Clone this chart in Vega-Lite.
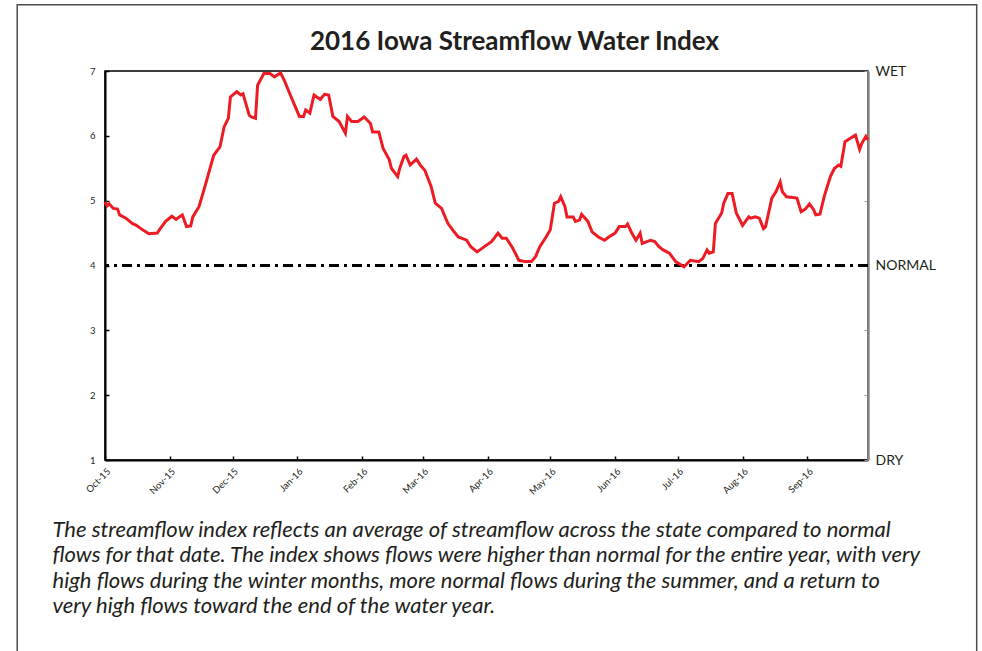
{
  "$schema": "https://vega.github.io/schema/vega-lite/v6.json",
  "width": 763,
  "height": 389,
  "autosize": {"type": "none"},
  "padding": {"left": 105, "top": 71, "right": 114, "bottom": 191},
  "background": "white",
  "config": {"view": {"stroke": "black", "strokeWidth": 1.5}, "font": "Lato"},
  "title": {"text": "2016 Iowa Streamflow Water Index", "font": "Lato", "fontSize": 26, "fontWeight": "bold", "color": "#231F20", "anchor": "middle", "frame": "group", "dx": 28, "offset": -51},
  "data": {"values": [
    {"date": "2015-10-01", "index": 4.98}, {"date": "2015-10-02", "index": 4.92}, {"date": "2015-10-03", "index": 4.95},
    {"date": "2015-10-05", "index": 4.88}, {"date": "2015-10-07", "index": 4.87}, {"date": "2015-10-08", "index": 4.78},
    {"date": "2015-10-11", "index": 4.73}, {"date": "2015-10-14", "index": 4.65}, {"date": "2015-10-16", "index": 4.62},
    {"date": "2015-10-19", "index": 4.55}, {"date": "2015-10-22", "index": 4.49}, {"date": "2015-10-26", "index": 4.50},
    {"date": "2015-10-27", "index": 4.55}, {"date": "2015-10-30", "index": 4.68}, {"date": "2015-11-02", "index": 4.76},
    {"date": "2015-11-04", "index": 4.71}, {"date": "2015-11-06", "index": 4.76}, {"date": "2015-11-07", "index": 4.78},
    {"date": "2015-11-09", "index": 4.60}, {"date": "2015-11-11", "index": 4.61}, {"date": "2015-11-12", "index": 4.75},
    {"date": "2015-11-15", "index": 4.91}, {"date": "2015-11-18", "index": 5.24}, {"date": "2015-11-20", "index": 5.47},
    {"date": "2015-11-22", "index": 5.70}, {"date": "2015-11-25", "index": 5.83}, {"date": "2015-11-27", "index": 6.14},
    {"date": "2015-11-29", "index": 6.27}, {"date": "2015-11-30", "index": 6.60}, {"date": "2015-12-03", "index": 6.68},
    {"date": "2015-12-05", "index": 6.63}, {"date": "2015-12-06", "index": 6.65}, {"date": "2015-12-09", "index": 6.32},
    {"date": "2015-12-10", "index": 6.29}, {"date": "2015-12-12", "index": 6.27}, {"date": "2015-12-13", "index": 6.78},
    {"date": "2015-12-16", "index": 6.96}, {"date": "2015-12-19", "index": 6.96}, {"date": "2015-12-21", "index": 6.91},
    {"date": "2015-12-24", "index": 6.97}, {"date": "2015-12-26", "index": 6.84}, {"date": "2015-12-28", "index": 6.68},
    {"date": "2015-12-31", "index": 6.45}, {"date": "2016-01-02", "index": 6.30}, {"date": "2016-01-04", "index": 6.30},
    {"date": "2016-01-05", "index": 6.40}, {"date": "2016-01-07", "index": 6.35}, {"date": "2016-01-09", "index": 6.63},
    {"date": "2016-01-12", "index": 6.56}, {"date": "2016-01-14", "index": 6.64}, {"date": "2016-01-16", "index": 6.63},
    {"date": "2016-01-18", "index": 6.30}, {"date": "2016-01-21", "index": 6.22}, {"date": "2016-01-24", "index": 6.04},
    {"date": "2016-01-25", "index": 6.30}, {"date": "2016-01-27", "index": 6.22}, {"date": "2016-01-30", "index": 6.22},
    {"date": "2016-02-02", "index": 6.29}, {"date": "2016-02-05", "index": 6.19}, {"date": "2016-02-06", "index": 6.06},
    {"date": "2016-02-09", "index": 6.06}, {"date": "2016-02-11", "index": 5.81}, {"date": "2016-02-14", "index": 5.63},
    {"date": "2016-02-15", "index": 5.50}, {"date": "2016-02-18", "index": 5.37}, {"date": "2016-02-19", "index": 5.50},
    {"date": "2016-02-21", "index": 5.68}, {"date": "2016-02-22", "index": 5.70}, {"date": "2016-02-24", "index": 5.55},
    {"date": "2016-02-27", "index": 5.64}, {"date": "2016-02-29", "index": 5.54}, {"date": "2016-03-02", "index": 5.47},
    {"date": "2016-03-05", "index": 5.22}, {"date": "2016-03-07", "index": 4.96}, {"date": "2016-03-10", "index": 4.88},
    {"date": "2016-03-13", "index": 4.65}, {"date": "2016-03-16", "index": 4.52}, {"date": "2016-03-18", "index": 4.44},
    {"date": "2016-03-22", "index": 4.39}, {"date": "2016-03-24", "index": 4.29}, {"date": "2016-03-27", "index": 4.21},
    {"date": "2016-03-30", "index": 4.28}, {"date": "2016-04-03", "index": 4.37}, {"date": "2016-04-06", "index": 4.50},
    {"date": "2016-04-08", "index": 4.42}, {"date": "2016-04-10", "index": 4.42}, {"date": "2016-04-13", "index": 4.27},
    {"date": "2016-04-16", "index": 4.08}, {"date": "2016-04-19", "index": 4.06}, {"date": "2016-04-22", "index": 4.06},
    {"date": "2016-04-24", "index": 4.14}, {"date": "2016-04-26", "index": 4.29}, {"date": "2016-04-29", "index": 4.44},
    {"date": "2016-05-01", "index": 4.55}, {"date": "2016-05-03", "index": 4.96}, {"date": "2016-05-05", "index": 4.99},
    {"date": "2016-05-06", "index": 5.06}, {"date": "2016-05-08", "index": 4.91}, {"date": "2016-05-09", "index": 4.75},
    {"date": "2016-05-12", "index": 4.75}, {"date": "2016-05-13", "index": 4.68}, {"date": "2016-05-15", "index": 4.70},
    {"date": "2016-05-16", "index": 4.79}, {"date": "2016-05-19", "index": 4.68}, {"date": "2016-05-21", "index": 4.52},
    {"date": "2016-05-24", "index": 4.44}, {"date": "2016-05-27", "index": 4.39}, {"date": "2016-05-29", "index": 4.44},
    {"date": "2016-06-01", "index": 4.50}, {"date": "2016-06-03", "index": 4.60}, {"date": "2016-06-06", "index": 4.60},
    {"date": "2016-06-07", "index": 4.64}, {"date": "2016-06-09", "index": 4.50}, {"date": "2016-06-11", "index": 4.39},
    {"date": "2016-06-13", "index": 4.50}, {"date": "2016-06-14", "index": 4.34}, {"date": "2016-06-18", "index": 4.39},
    {"date": "2016-06-20", "index": 4.37}, {"date": "2016-06-22", "index": 4.29}, {"date": "2016-06-24", "index": 4.24},
    {"date": "2016-06-27", "index": 4.19}, {"date": "2016-06-30", "index": 4.06}, {"date": "2016-07-04", "index": 3.98},
    {"date": "2016-07-07", "index": 4.08}, {"date": "2016-07-11", "index": 4.06}, {"date": "2016-07-13", "index": 4.11},
    {"date": "2016-07-15", "index": 4.24}, {"date": "2016-07-16", "index": 4.19}, {"date": "2016-07-18", "index": 4.21},
    {"date": "2016-07-19", "index": 4.65}, {"date": "2016-07-22", "index": 4.81}, {"date": "2016-07-23", "index": 4.96},
    {"date": "2016-07-25", "index": 5.11}, {"date": "2016-07-27", "index": 5.11}, {"date": "2016-07-29", "index": 4.81},
    {"date": "2016-08-01", "index": 4.62}, {"date": "2016-08-04", "index": 4.75}, {"date": "2016-08-05", "index": 4.73},
    {"date": "2016-08-07", "index": 4.75}, {"date": "2016-08-09", "index": 4.73}, {"date": "2016-08-11", "index": 4.57},
    {"date": "2016-08-12", "index": 4.60}, {"date": "2016-08-15", "index": 5.04}, {"date": "2016-08-17", "index": 5.14},
    {"date": "2016-08-19", "index": 5.29}, {"date": "2016-08-20", "index": 5.14}, {"date": "2016-08-22", "index": 5.06},
    {"date": "2016-08-25", "index": 5.05}, {"date": "2016-08-27", "index": 5.04}, {"date": "2016-08-29", "index": 4.83},
    {"date": "2016-08-31", "index": 4.87}, {"date": "2016-09-02", "index": 4.95}, {"date": "2016-09-04", "index": 4.86},
    {"date": "2016-09-05", "index": 4.78}, {"date": "2016-09-07", "index": 4.79}, {"date": "2016-09-09", "index": 5.06},
    {"date": "2016-09-12", "index": 5.37}, {"date": "2016-09-14", "index": 5.50}, {"date": "2016-09-16", "index": 5.55},
    {"date": "2016-09-17", "index": 5.53}, {"date": "2016-09-19", "index": 5.91}, {"date": "2016-09-21", "index": 5.95},
    {"date": "2016-09-24", "index": 6.01}, {"date": "2016-09-26", "index": 5.79}, {"date": "2016-09-27", "index": 5.88},
    {"date": "2016-09-29", "index": 5.99}, {"date": "2016-09-30", "index": 5.94}
  ]},
  "layer": [
    {
      "data": {"values": [{}]},
      "mark": {"type": "rect", "fill": "white", "fillOpacity": 0, "stroke": "#4d4d4d", "strokeWidth": 1.5, "clip": false},
      "encoding": {
        "x": {"datum": {"year": 2015, "month": 8, "date": 20}, "type": "temporal",
              "scale": {"domain": [{"year": 2015, "month": 10, "date": 1}, {"year": 2016, "month": 9, "date": 30}]}},
        "x2": {"datum": {"year": 2016, "month": 11, "date": 21}},
        "y": {"datum": 8.02, "type": "quantitative", "axis": null, "scale": {"domain": [1, 7], "nice": false, "zero": false}},
        "y2": {"datum": -3}
      }
    },
    {
      "data": {"values": [{}]},
      "mark": {"type": "rule", "strokeDash": [10, 5, 3, 5], "strokeWidth": 3, "color": "black"},
      "encoding": {
        "y": {"datum": 4, "type": "quantitative", "scale": {"domain": [1, 7], "nice": false, "zero": false},
              "axis": {"orient": "right", "title": null, "values": [1, 2, 3, 4, 5, 6, 7],
                       "labelExpr": "datum.value == 7 ? 'WET' : datum.value == 4 ? 'NORMAL' : datum.value == 1 ? 'DRY' : ''",
                       "labelFont": "Lato", "labelFontSize": 14, "labelColor": "#231F20", "labelPadding": 11,
                       "tickSize": -4, "tickColor": "#999999", "tickWidth": 1,
                       "domainColor": "#888888", "domainWidth": 2.5, "grid": false}}
      }
    },
    {
      "mark": {"type": "line", "color": "#ED1C24", "strokeWidth": 3},
      "encoding": {
        "x": {"field": "date", "type": "temporal",
              "scale": {"domain": [{"year": 2015, "month": 10, "date": 1}, {"year": 2016, "month": 9, "date": 30}]},
              "axis": {"format": "%b-%y", "labelAngle": -45, "labelFontSize": 9.5, "labelColor": "#231F20",
                       "tickCount": {"interval": "month", "step": 1}, "tickSize": -4, "tickColor": "black", "tickWidth": 1.5,
                       "labelPadding": 10, "domainColor": "black", "domainWidth": 2, "grid": false,
                       "title": ["The streamflow index reflects an average of streamflow across the state compared to normal",
                                 "flows for that date. The index shows flows were higher than normal for the entire year, with very",
                                 "high flows during the winter months, more normal flows during the summer, and a return to",
                                 "very high flows toward the end of the water year."],
                       "titleFont": "Lato", "titleFontSize": 22, "titleFontStyle": "italic", "titleFontWeight": "normal",
                       "titleColor": "#231F20", "titleAlign": "left", "titleBaseline": "alphabetic", "titleLineHeight": 25.6,
                       "titleX": -53, "titleY": 76}},
        "y": {"field": "index", "type": "quantitative", "scale": {"domain": [1, 7], "nice": false, "zero": false},
              "axis": {"values": [1, 2, 3, 4, 5, 6, 7], "title": null, "labelFontSize": 9.5, "labelColor": "#231F20",
                       "labelPadding": 14, "tickSize": -4, "tickColor": "black", "tickWidth": 1.5,
                       "domainColor": "black", "domainWidth": 2, "grid": false}}
      }
    }
  ],
  "resolve": {"axis": {"y": "independent"}}
}
